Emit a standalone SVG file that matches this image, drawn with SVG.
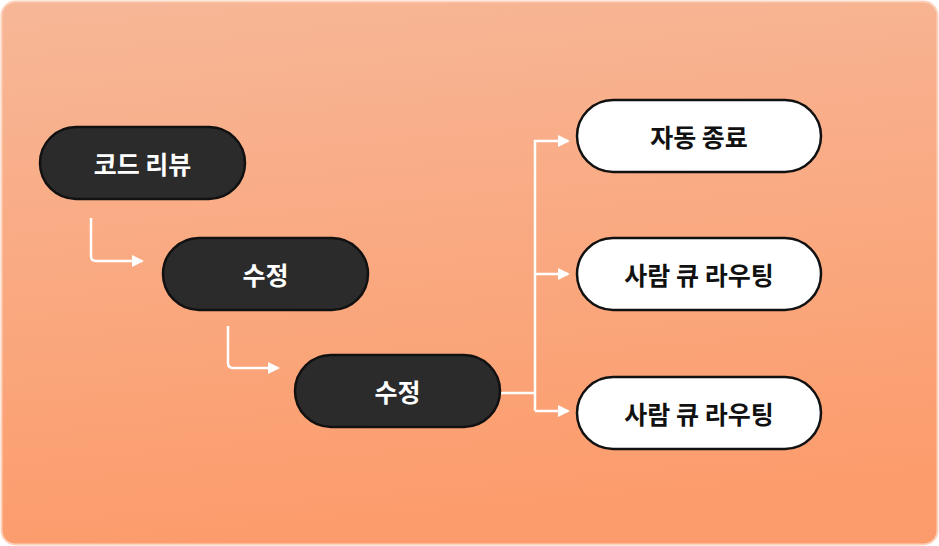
<svg xmlns="http://www.w3.org/2000/svg" width="939" height="546" viewBox="0 0 939 546">
<defs>
<linearGradient id="bg" x1="0" y1="0" x2="0.15" y2="1">
<stop offset="0" stop-color="#f7b797"/>
<stop offset="1" stop-color="#fc9c6c"/>
</linearGradient>
<marker id="ah" markerWidth="12" markerHeight="12" refX="10" refY="6" orient="auto" markerUnits="userSpaceOnUse">
<path d="M0,0 L12,6 L0,12 Z" fill="#ffffff"/>
</marker>
<style>
.dark rect{fill:#2b2b2b;stroke:#111;stroke-width:2.5}
.light rect{fill:#fff;stroke:#111;stroke-width:2.5}
text{font-family:"Noto Sans CJK KR",sans-serif;font-weight:700;font-size:25px;text-anchor:middle;dominant-baseline:central}
.dark text{fill:#fff}
.light text{fill:#111}
.c path{fill:none;stroke:#fff;stroke-width:2.5}
</style>
</defs>
<rect x="1.5" y="1.5" width="936" height="543" rx="14" fill="url(#bg)" stroke="#fbd3bd" stroke-width="2"/>
<g class="c">
<path d="M91,218 V256 Q91,261 96,261 H142" marker-end="url(#ah)"/>
<path d="M228,326 V363 Q228,368 233,368 H278" marker-end="url(#ah)"/>
<path d="M500,393 H535"/>
<path d="M535,411 V141 H568" marker-end="url(#ah)"/>
<path d="M535,274 H568" marker-end="url(#ah)"/>
<path d="M535,411 H568" marker-end="url(#ah)"/>
</g>
<g id="n1" class="dark"><rect x="40" y="127" width="205" height="72" rx="36"/><text x="142.5" y="163">코드 리뷰</text></g>
<g id="n2" class="dark"><rect x="163" y="238" width="205" height="72" rx="36"/><text x="265.5" y="274">수정</text></g>
<g id="n3" class="dark"><rect x="295" y="355" width="205" height="72" rx="36"/><text x="397.5" y="391">수정</text></g>
<g id="n4" class="light"><rect x="577" y="100" width="244" height="72" rx="36"/><text x="699" y="136">자동 종료</text></g>
<g id="n5" class="light"><rect x="577" y="238" width="244" height="72" rx="36"/><text x="699" y="274">사람 큐 라우팅</text></g>
<g id="n6" class="light"><rect x="577" y="377" width="244" height="72" rx="36"/><text x="699" y="413">사람 큐 라우팅</text></g>
</svg>
